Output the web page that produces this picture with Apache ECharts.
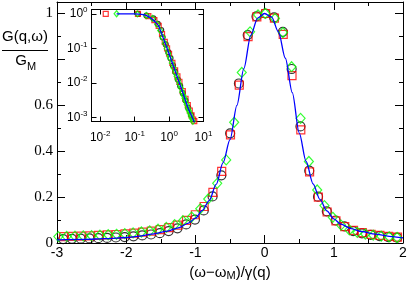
<!DOCTYPE html>
<html><head><meta charset="utf-8">
<script src="https://cdn.jsdelivr.net/npm/echarts/dist/echarts.min.js"></script>
<style>html,body{margin:0;padding:0;background:#fff}#c{width:409px;height:282px}</style>
</head><body><div id="c"></div>
<script>
// ---- main panel data ----
const blackX = [-2.911,-2.784,-2.657,-2.53,-2.403,-2.276,-2.149,-2.022,-1.895,-1.768,-1.641,-1.514,-1.387,-1.26,-1.133,-1.006,-0.879,-0.752,-0.625,-0.498,-0.371,-0.244,-0.117,0.01,0.137,0.264,0.391,0.518,0.645,0.772,0.899,1.026,1.153,1.28,1.407,1.534,1.661,1.788,1.915];
const blackY = [0.017,0.018,0.019,0.020,0.021,0.022,0.024,0.026,0.029,0.033,0.037,0.043,0.052,0.064,0.081,0.102,0.142,0.203,0.295,0.478,0.695,0.906,0.987,1.0,0.983,0.920,0.758,0.508,0.315,0.202,0.138,0.098,0.072,0.052,0.042,0.035,0.030,0.026,0.023];
const redX = [-2.906,-2.779,-2.652,-2.525,-2.398,-2.271,-2.144,-2.017,-1.89,-1.763,-1.636,-1.509,-1.382,-1.255,-1.128,-1.001,-0.874,-0.747,-0.62,-0.493,-0.366,-0.239,-0.112,0.015,0.142,0.269,0.396,0.523,0.65,0.777,0.904,1.031,1.158,1.285,1.412,1.539,1.666,1.793,1.92];
const redY = [0.028,0.029,0.030,0.031,0.033,0.035,0.037,0.040,0.043,0.047,0.052,0.058,0.067,0.078,0.099,0.123,0.159,0.221,0.312,0.471,0.688,0.899,0.985,1.0,0.980,0.909,0.729,0.493,0.310,0.200,0.135,0.096,0.071,0.055,0.045,0.038,0.033,0.029,0.026];
const greenX = [-2.98,-2.86,-2.74,-2.62,-2.50,-2.38,-2.26,-2.14,-2.02,-1.90,-1.78,-1.66,-1.54,-1.42,-1.30,-1.18,-1.055,-0.93,-0.815,-0.685,-0.555,-0.44,-0.33,-0.21,-0.095,0.01,0.15,0.265,0.39,0.52,0.64,0.76,0.865,0.985,1.105,1.225,1.34,1.455,1.57,1.685,1.80,1.915];
const greenY = [0.028,0.029,0.030,0.031,0.032,0.034,0.036,0.038,0.041,0.044,0.048,0.053,0.060,0.068,0.080,0.097,0.113,0.149,0.192,0.260,0.362,0.526,0.743,0.920,0.994,1.0,0.978,0.917,0.768,0.543,0.355,0.231,0.163,0.112,0.078,0.057,0.046,0.039,0.034,0.030,0.027,0.024];
const lineX = [-3.0,-2.6,-2.3,-2.0,-1.8,-1.6,-1.4,-1.25,-1.1,-1.0,-0.9,-0.8,-0.7,-0.6,-0.5,-0.4,-0.3,-0.2,-0.1,0.0,0.1,0.2,0.3,0.4,0.5,0.6,0.7,0.8,0.9,1.0,1.1,1.25,1.4,1.6,1.8,2.0];
const lineY = [0.014,0.016,0.019,0.024,0.030,0.040,0.052,0.066,0.087,0.108,0.142,0.185,0.255,0.35,0.45,0.60,0.76,0.905,0.98,1.0,0.985,0.92,0.805,0.655,0.48,0.355,0.258,0.19,0.14,0.105,0.082,0.063,0.05,0.039,0.029,0.022];
const xTicks = [-3,-2,-1,0,1,2];
const yTickLabels = {0:'0',0.2:'0.2',0.4:'0.4',0.6:'0.6',1:'1'};

// ---- inset data (log-log) ----
const inBlackX = [0.125,0.22,0.35,0.47,0.59,0.65,0.8,0.95,1.1,1.3,1.5,1.8,2.1,2.5,3.0,3.6,4.3,5.2];
const inBlackY = [0.99,0.89,0.74,0.51,0.34,0.21,0.13,0.078,0.052,0.032,0.021,0.0125,0.0082,0.0051,0.0031,0.0019,0.0012,0.00075];
const inRedX = [0.0145,0.125,0.25,0.375,0.5,0.625,0.75,0.875,1.0,1.25,1.5,1.75,2.0,2.5,3.0,3.5,4.0,4.5,5.0,5.4];
const inRedY = [1.0,0.99,0.86,0.66,0.45,0.26,0.155,0.1,0.07,0.038,0.023,0.0155,0.0108,0.0058,0.0035,0.0023,0.0016,0.00115,0.00088,0.00079];
const inGreenX = [0.03,0.12,0.22,0.33,0.45,0.55,0.65,0.75,0.85,0.95,1.05,1.2,1.35,1.5,1.65,1.8,2.0,2.2,2.4,2.6,2.8,3.0,3.25,3.5,3.75,4.0,4.3,4.6,4.9];
const inGreenY = [1.0,0.99,0.89,0.74,0.50,0.33,0.21,0.14,0.098,0.071,0.054,0.038,0.027,0.020,0.0156,0.0122,0.0092,0.0071,0.0055,0.0044,0.0036,0.0030,0.0024,0.0019,0.0016,0.00135,0.0011,0.00093,0.00078];
const inLineX = [0.03,0.1,0.158,0.224,0.316,0.40,0.49,0.69,0.97,1.5,2.4,3.5,5.25,6.0];
const inLineY = [1.0,0.99,0.96,0.89,0.72,0.575,0.457,0.19,0.076,0.0224,0.0059,0.002,0.00079,0.00055];

const zip = (a,b) => a.map((v,i)=>[v,b[i]]);
const SANS = 'Liberation Sans';
const SERIF = 'Liberation Serif';
const tickStyle = {color:'#000', width:1};

function mainX(pos, show){
  return {gridIndex:0, type:'value', min:-3, max:2, interval:1, position:pos,
    axisLine:{onZero:false, lineStyle:tickStyle},
    axisTick:{inside:true, length:8, lineStyle:tickStyle},
    minorTick:{show:true, splitNumber:2, length:4, lineStyle:tickStyle},
    splitLine:{show:false},
    axisLabel:{show:show, color:'#000', fontFamily:SANS, fontSize:14, margin:3}};
}
function mainY(pos, show){
  return {gridIndex:0, type:'value', min:0, max:1.05, interval:0.2, position:pos,
    axisLine:{onZero:false, lineStyle:tickStyle},
    axisTick:{inside:true, length:8, lineStyle:tickStyle},
    minorTick:{show:true, splitNumber:2, length:4, lineStyle:tickStyle},
    splitLine:{show:false},
    axisLabel:{show:show, color:'#000', fontFamily:SERIF, fontSize:15, margin:4, showMaxLabel:false,
      formatter:v=>{const k=Math.round(v*10)/10; return yTickLabels[k]!==undefined && Math.abs(v-k)<1e-6 ? yTickLabels[k] : '';}}};
}
const logLabel = v => { const e = Math.round(Math.log10(v)); return '{b|10}{s|' + e + '}'; };
const logRich = {b:{fontFamily:SANS, fontSize:12, color:'#000'}, s:{fontFamily:SANS, fontSize:8, color:'#000', padding:[0,0,8,0]}};
function inX(pos, show){
  return {gridIndex:1, type:'log', logBase:10, min:0.0056, max:10, position:pos,
    axisLine:{onZero:false, lineStyle:tickStyle},
    axisTick:{inside:true, length:5, lineStyle:tickStyle},
    splitLine:{show:false}, minorTick:{show:false},
    axisLabel:{show:show, margin:8, showMinLabel:false, formatter:logLabel, rich:logRich}};
}
function inY(pos, show){
  return {gridIndex:1, type:'log', logBase:10, min:0.00077, max:1.33, position:pos,
    axisLine:{onZero:false, lineStyle:tickStyle},
    axisTick:{inside:true, length:5, lineStyle:tickStyle},
    splitLine:{show:false}, minorTick:{show:false},
    axisLabel:{show:show, margin:4, showMinLabel:false, showMaxLabel:false, formatter:logLabel, rich:logRich}};
}
const hollow = c => ({color:'rgba(0,0,0,0)', borderColor:c, borderWidth:1.2});

const chart = echarts.init(document.getElementById('c'), null, {renderer:'canvas'});
const xm = mainX('bottom', true);
xm.name = '{a|(ω−ω}{s|M}{a|)/γ(q)}';
xm.nameLocation = 'middle';
xm.nameGap = 17;
xm.nameTextStyle = {rich:{a:{fontFamily:SANS, fontSize:15, color:'#000'}, s:{fontFamily:SANS, fontSize:11, color:'#000', padding:[8,0,0,0]}}};

chart.setOption({
  animation:false,
  backgroundColor:'#fff',
  grid:[
    {left:57, top:2, width:346, height:241, show:false, outerBoundsMode:'none', containLabel:false},
    {left:91.5, top:9.5, width:112, height:112, show:true, backgroundColor:'#fff', borderColor:'#000', borderWidth:1, outerBoundsMode:'none', containLabel:false}
  ],
  xAxis:[xm, mainX('top', false), inX('bottom', true), inX('top', false)],
  yAxis:[mainY('left', true), mainY('right', false), inY('left', true), inY('right', false)],
  series:[
    {type:'scatter', xAxisIndex:0, yAxisIndex:0, symbol:'circle', symbolSize:9, itemStyle:hollow('#000'), data:zip(blackX, blackY)},
    {type:'scatter', xAxisIndex:0, yAxisIndex:0, symbol:'rect', symbolSize:8, itemStyle:hollow('#ff0000'), data:zip(redX, redY)},
    {type:'scatter', xAxisIndex:0, yAxisIndex:0, symbol:'diamond', symbolSize:[9,10], itemStyle:hollow('#00ff00'), data:zip(greenX, greenY)},
    {type:'line', xAxisIndex:0, yAxisIndex:0, showSymbol:false, smooth:0.3, smoothMonotone:'x', lineStyle:{color:'#0000ff', width:1.3}, data:zip(lineX, lineY)},
    {type:'scatter', xAxisIndex:2, yAxisIndex:2, symbol:'circle', symbolSize:5, itemStyle:hollow('#000'), data:zip(inBlackX, inBlackY)},
    {type:'scatter', xAxisIndex:2, yAxisIndex:2, symbol:'rect', symbolSize:5, itemStyle:hollow('#ff0000'), data:zip(inRedX, inRedY)},
    {type:'scatter', xAxisIndex:2, yAxisIndex:2, symbol:'diamond', symbolSize:[5,6], itemStyle:hollow('#00ff00'), data:zip(inGreenX, inGreenY)},
    {type:'line', xAxisIndex:2, yAxisIndex:2, showSymbol:false, smooth:0.3, lineStyle:{color:'#0000ff', width:1.3}, clip:true, data:zip(inLineX, inLineY)}
  ],
  graphic:[
    {type:'text', x:25, y:37, style:{text:'G(q,ω)', font:'15px "Liberation Sans"', fill:'#000', textAlign:'center', textVerticalAlign:'middle'}},
    {type:'line', shape:{x1:2, y1:50.5, x2:48, y2:50.5}, style:{stroke:'#000', lineWidth:1}},
    {type:'text', x:21, y:61, style:{text:'G', font:'15px "Liberation Sans"', fill:'#000', textAlign:'center', textVerticalAlign:'middle'}},
    {type:'text', x:27, y:67, style:{text:'M', font:'11px "Liberation Sans"', fill:'#000', textAlign:'left', textVerticalAlign:'middle'}}
  ]
});
</script>
</body></html>
